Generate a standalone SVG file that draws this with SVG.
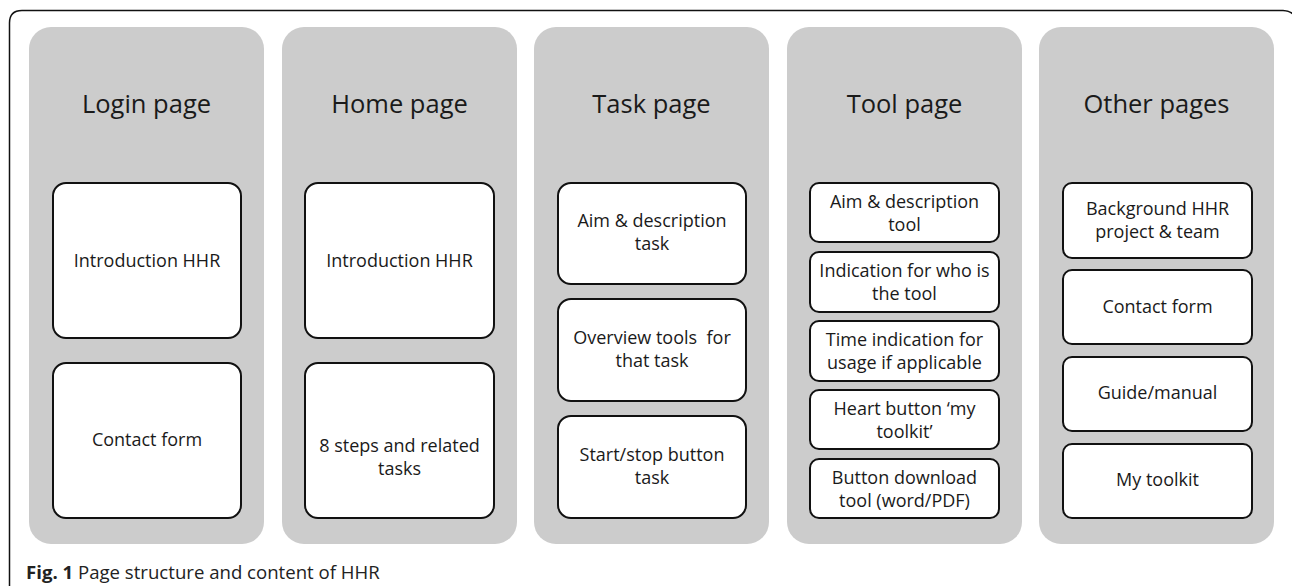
<svg xmlns="http://www.w3.org/2000/svg" width="1292" height="586" viewBox="0 0 1292 586">
<style>
.col{fill:#cccccc}
.box{fill:#ffffff;stroke:#111111;stroke-width:2}
.title{font-family:"Open Sans","Liberation Sans",sans-serif;font-size:25.5px;fill:#1a1a1a;text-anchor:middle}
.t{font-family:"Open Sans","Liberation Sans",sans-serif;font-size:18px;fill:#1a1a1a;text-anchor:middle}
.cap{font-family:"Open Sans","Liberation Sans",sans-serif;font-size:18.6px;fill:#222222}
</style>
<rect width="1292" height="586" fill="#ffffff"/>
<path d="M9.5,590 V23 Q9.5,10.5 22,10.5 H1283 Q1292,10.5 1296,18" fill="none" stroke="#111111" stroke-width="1.5"/>

<g id="login">
<rect class="col" x="29" y="27" width="235" height="517" rx="22"/>
<text class="title" x="146.5" y="113">Login page</text>
<g id="login-intro"><rect class="box" x="53" y="183" width="188" height="155" rx="13"/><text class="t" x="147" y="267">Introduction HHR</text></g>
<g id="login-contact"><rect class="box" x="53" y="363" width="188" height="155" rx="13"/><text class="t" x="147" y="446">Contact form</text></g>
</g>

<g id="home">
<rect class="col" x="282" y="27" width="235" height="517" rx="22"/>
<text class="title" x="399.5" y="113">Home page</text>
<g id="home-intro"><rect class="box" x="305" y="183" width="189" height="155" rx="13"/><text class="t" x="399.5" y="267">Introduction HHR</text></g>
<g id="home-steps"><rect class="box" x="305" y="363" width="189" height="155" rx="13"/><text class="t" x="399.5" y="452">8 steps and related</text><text class="t" x="399.5" y="475">tasks</text></g>
</g>

<g id="task">
<rect class="col" x="534" y="27" width="235" height="517" rx="22"/>
<text class="title" x="651.5" y="113">Task page</text>
<g id="task-aim"><rect class="box" x="558" y="183" width="188" height="101" rx="13"/><text class="t" x="652" y="227">Aim &amp; description</text><text class="t" x="652" y="250">task</text></g>
<g id="task-overview"><rect class="box" x="558" y="299" width="188" height="102" rx="13"/><text class="t" x="652" y="344" style="white-space:pre">Overview tools  for</text><text class="t" x="652" y="367">that task</text></g>
<g id="task-start"><rect class="box" x="558" y="416" width="188" height="102" rx="13"/><text class="t" x="652" y="461">Start/stop button</text><text class="t" x="652" y="484">task</text></g>
</g>

<g id="tool">
<rect class="col" x="787" y="27" width="235" height="517" rx="22"/>
<text class="title" x="904.5" y="113">Tool page</text>
<g id="tool-aim"><rect class="box" x="810" y="183" width="189" height="59" rx="9"/><text class="t" x="904.5" y="208">Aim &amp; description</text><text class="t" x="904.5" y="231">tool</text></g>
<g id="tool-who"><rect class="box" x="810" y="252" width="189" height="60" rx="9"/><text class="t" x="904.5" y="277">Indication for who is</text><text class="t" x="904.5" y="300">the tool</text></g>
<g id="tool-time"><rect class="box" x="810" y="321" width="189" height="60" rx="9"/><text class="t" x="904.5" y="346">Time indication for</text><text class="t" x="904.5" y="369">usage if applicable</text></g>
<g id="tool-heart"><rect class="box" x="810" y="390" width="189" height="59" rx="9"/><text class="t" x="904.5" y="415">Heart button ‘my</text><text class="t" x="904.5" y="438">toolkit’</text></g>
<g id="tool-download"><rect class="box" x="810" y="459" width="189" height="59" rx="9"/><text class="t" x="904.5" y="484">Button download</text><text class="t" x="904.5" y="507">tool (word/PDF)</text></g>
</g>

<g id="other">
<rect class="col" x="1039" y="27" width="235" height="517" rx="22"/>
<text class="title" x="1156.5" y="113">Other pages</text>
<g id="other-background"><rect class="box" x="1063" y="183" width="189" height="75" rx="9"/><text class="t" x="1157.5" y="215">Background HHR</text><text class="t" x="1157.5" y="238">project &amp; team</text></g>
<g id="other-contact"><rect class="box" x="1063" y="270" width="189" height="74" rx="9"/><text class="t" x="1157.5" y="313">Contact form</text></g>
<g id="other-guide"><rect class="box" x="1063" y="357" width="189" height="74" rx="9"/><text class="t" x="1157.5" y="399">Guide/manual</text></g>
<g id="other-toolkit"><rect class="box" x="1063" y="444" width="189" height="74" rx="9"/><text class="t" x="1157.5" y="486">My toolkit</text></g>
</g>

<g id="connectors"></g>

<text class="cap" x="26" y="579"><tspan font-weight="bold">Fig. 1</tspan> Page structure and content of HHR</text>
</svg>
